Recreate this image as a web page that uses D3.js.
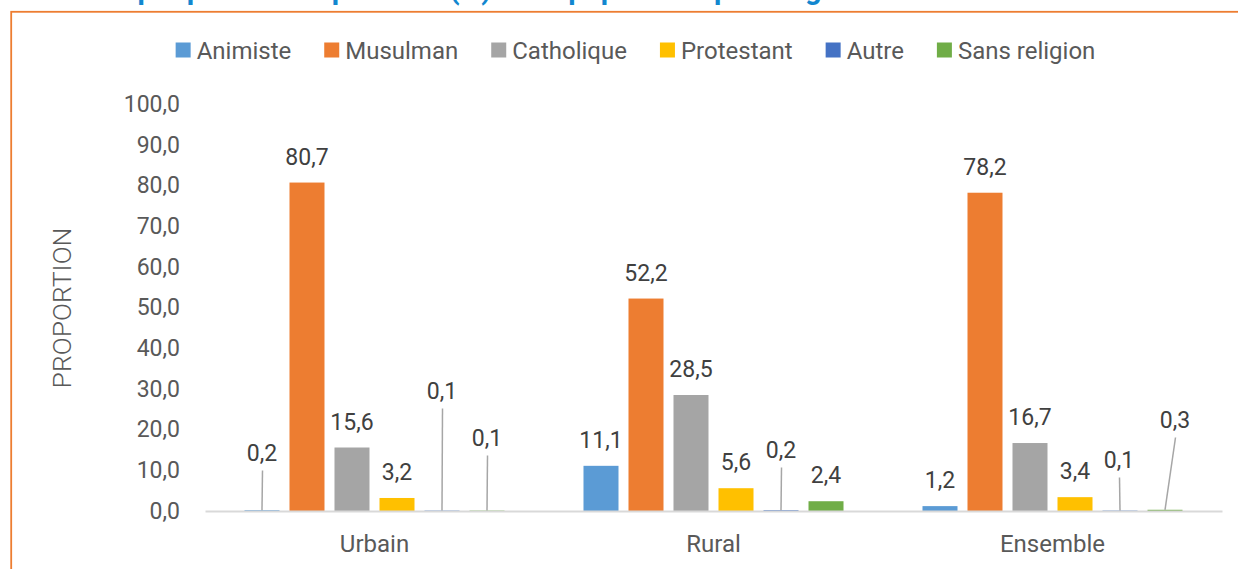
<!DOCTYPE html>
<html lang="fr">
<head>
    <meta charset="UTF-8">
    <title>Répartition de la population par religion</title>
    <script src="https://d3js.org/d3.v7.min.js"></script>
    <style>
        body { margin: 0; background: #ffffff; }
        text { font-family: Roboto, "Noto Sans", sans-serif; }
    </style>
</head>
<body>
    <div id="chart"></div>

    <script>
        // Data
        const milieux = ["Urbain", "Rural", "Ensemble"];
        const religions = ["Animiste", "Musulman", "Catholique", "Protestant", "Autre", "Sans religion"];
        const animiste = [0.2, 11.1, 1.2];
        const musulman = [80.7, 52.2, 78.2];
        const catholique = [15.6, 28.5, 16.7];
        const protestant = [3.2, 5.6, 3.4];
        const autre = [0.1, 0.2, 0.1];
        const sansReligion = [0.1, 2.4, 0.3];
        const yTicks = [0, 10, 20, 30, 40, 50, 60, 70, 80, 90, 100];

        const seriesValues = [animiste, musulman, catholique, protestant, autre, sansReligion];
        const colors = ["#5B9BD5", "#ED7D31", "#A5A5A5", "#FFC000", "#4472C4", "#70AD47"];

        // Labels that Excel pushed up with a leader line (lift = px above the axis, dx = shift)
        const leaderLabels = [
            { milieu: "Urbain", religion: "Animiste", lift: 58, dx: 0 },
            { milieu: "Urbain", religion: "Autre", lift: 120, dx: 0 },
            { milieu: "Urbain", religion: "Sans religion", lift: 73, dx: 0 },
            { milieu: "Rural", religion: "Autre", lift: 61, dx: 0 },
            { milieu: "Ensemble", religion: "Autre", lift: 51, dx: -1 },
            { milieu: "Ensemble", religion: "Sans religion", lift: 91, dx: 10 }
        ];

        const width = 1238;
        const height = 569;
        const margin = { top: 104, right: 16, bottom: 58, left: 205 };
        const textColor = "#595959";
        const fmt = v => d3.format(".1f")(v).replace(".", ",");

        // Build rows
        const data = [];
        milieux.forEach((m, i) => {
            religions.forEach((r, j) => {
                data.push({ milieu: m, religion: r, value: seriesValues[j][i], color: colors[j] });
            });
        });

        const svg = d3.select("#chart")
            .append("svg")
            .attr("width", width)
            .attr("height", height);

        // Cut-off title above the frame
        svg.append("text")
            .attr("x", 92)
            .attr("y", -1)
            .attr("font-size", 29)
            .attr("font-weight", "bold")
            .attr("fill", "#1287CF")
            .text("Graphique 2.3 : Répartition (%) de la population par religion");

        // Orange frame
        svg.append("rect")
            .attr("x", 11.2)
            .attr("y", 11.8)
            .attr("width", width + 20)
            .attr("height", height + 20)
            .attr("fill", "none")
            .attr("stroke", "#ED7D31")
            .attr("stroke-width", 1.8);

        // Scales
        const x0 = d3.scaleBand()
            .domain(milieux)
            .range([margin.left, width - margin.right])
            .paddingInner(0.2035)
            .paddingOuter(0.10175);

        const x1 = d3.scaleBand()
            .domain(religions)
            .range([0, x0.bandwidth()])
            .paddingInner(0.2222)
            .paddingOuter(0.1111);

        const y = d3.scaleLinear()
            .domain([0, 100])
            .range([height - margin.bottom, margin.top]);

        // Y axis
        const yAxis = svg.append("g")
            .attr("transform", `translate(${margin.left},0)`)
            .call(d3.axisLeft(y).tickValues(yTicks).tickSize(0).tickPadding(25).tickFormat(fmt));
        yAxis.select(".domain").remove();
        yAxis.selectAll("text")
            .attr("font-size", 23)
            .attr("font-family", "Roboto, sans-serif")
            .attr("fill", textColor);

        // Bars
        svg.selectAll("rect.bar")
            .data(data)
            .enter()
            .append("rect")
            .attr("class", "bar")
            .attr("x", d => x0(d.milieu) + x1(d.religion))
            .attr("y", d => y(d.value))
            .attr("width", x1.bandwidth())
            .attr("height", d => y(0) - y(d.value))
            .attr("fill", d => d.color);

        // X axis
        const xAxis = svg.append("g")
            .attr("transform", `translate(0,${y(0)})`)
            .call(d3.axisBottom(x0).tickSize(0).tickSizeOuter(0).tickPadding(24));
        xAxis.select(".domain")
            .attr("stroke", "#D9D9D9")
            .attr("stroke-width", 2);
        xAxis.selectAll("text")
            .attr("font-size", 24)
            .attr("font-family", "Roboto, sans-serif")
            .attr("fill", textColor);

        // Data labels
        const findLeader = d => leaderLabels.find(l => l.milieu === d.milieu && l.religion === d.religion);
        const cx = d => x0(d.milieu) + x1(d.religion) + x1.bandwidth() / 2;
        const labelY = d => {
            const l = findLeader(d);
            return l ? y(0) - l.lift : y(d.value) - 26;
        };
        const labelX = d => {
            const l = findLeader(d);
            return cx(d) + (l ? l.dx : 0);
        };

        svg.selectAll("line.leader")
            .data(data.filter(d => findLeader(d)))
            .enter()
            .append("line")
            .attr("class", "leader")
            .attr("x1", d => labelX(d) + 0.5)
            .attr("y1", d => labelY(d) + 17.5)
            .attr("x2", d => cx(d))
            .attr("y2", d => y(d.value))
            .attr("stroke", "#A6A6A6")
            .attr("stroke-width", 1.5);

        svg.selectAll("text.label")
            .data(data)
            .enter()
            .append("text")
            .attr("class", "label")
            .attr("x", labelX)
            .attr("y", labelY)
            .attr("dy", "0.355em")
            .attr("text-anchor", "middle")
            .attr("font-size", 23)
            .attr("fill", "#404040")
            .text(d => fmt(d.value));

        // Y axis title
        svg.append("text")
            .attr("transform", "translate(71,308) rotate(-90)")
            .attr("text-anchor", "middle")
            .attr("font-size", 26.5)
            .attr("font-weight", 300)
            .attr("fill", textColor)
            .text("PROPORTION");

        // Legend, centred above the plot
        const legend = svg.append("g");
        let lx = 0;
        religions.forEach((r, j) => {
            const item = legend.append("g").attr("transform", `translate(${lx},0)`);
            item.append("rect")
                .attr("x", 0)
                .attr("y", -7.5)
                .attr("width", 15)
                .attr("height", 15)
                .attr("fill", colors[j]);
            const t = item.append("text")
                .attr("x", 21)
                .attr("y", 0)
                .attr("dy", "0.355em")
                .attr("font-size", 24)
                .attr("fill", textColor)
                .text(r);
            lx += 21 + t.node().getComputedTextLength() + 33;
        });
        const legendWidth = lx - 33;
        legend.attr("transform", `translate(${635.5 - legendWidth / 2},50)`);
    </script>
</body>
</html>
